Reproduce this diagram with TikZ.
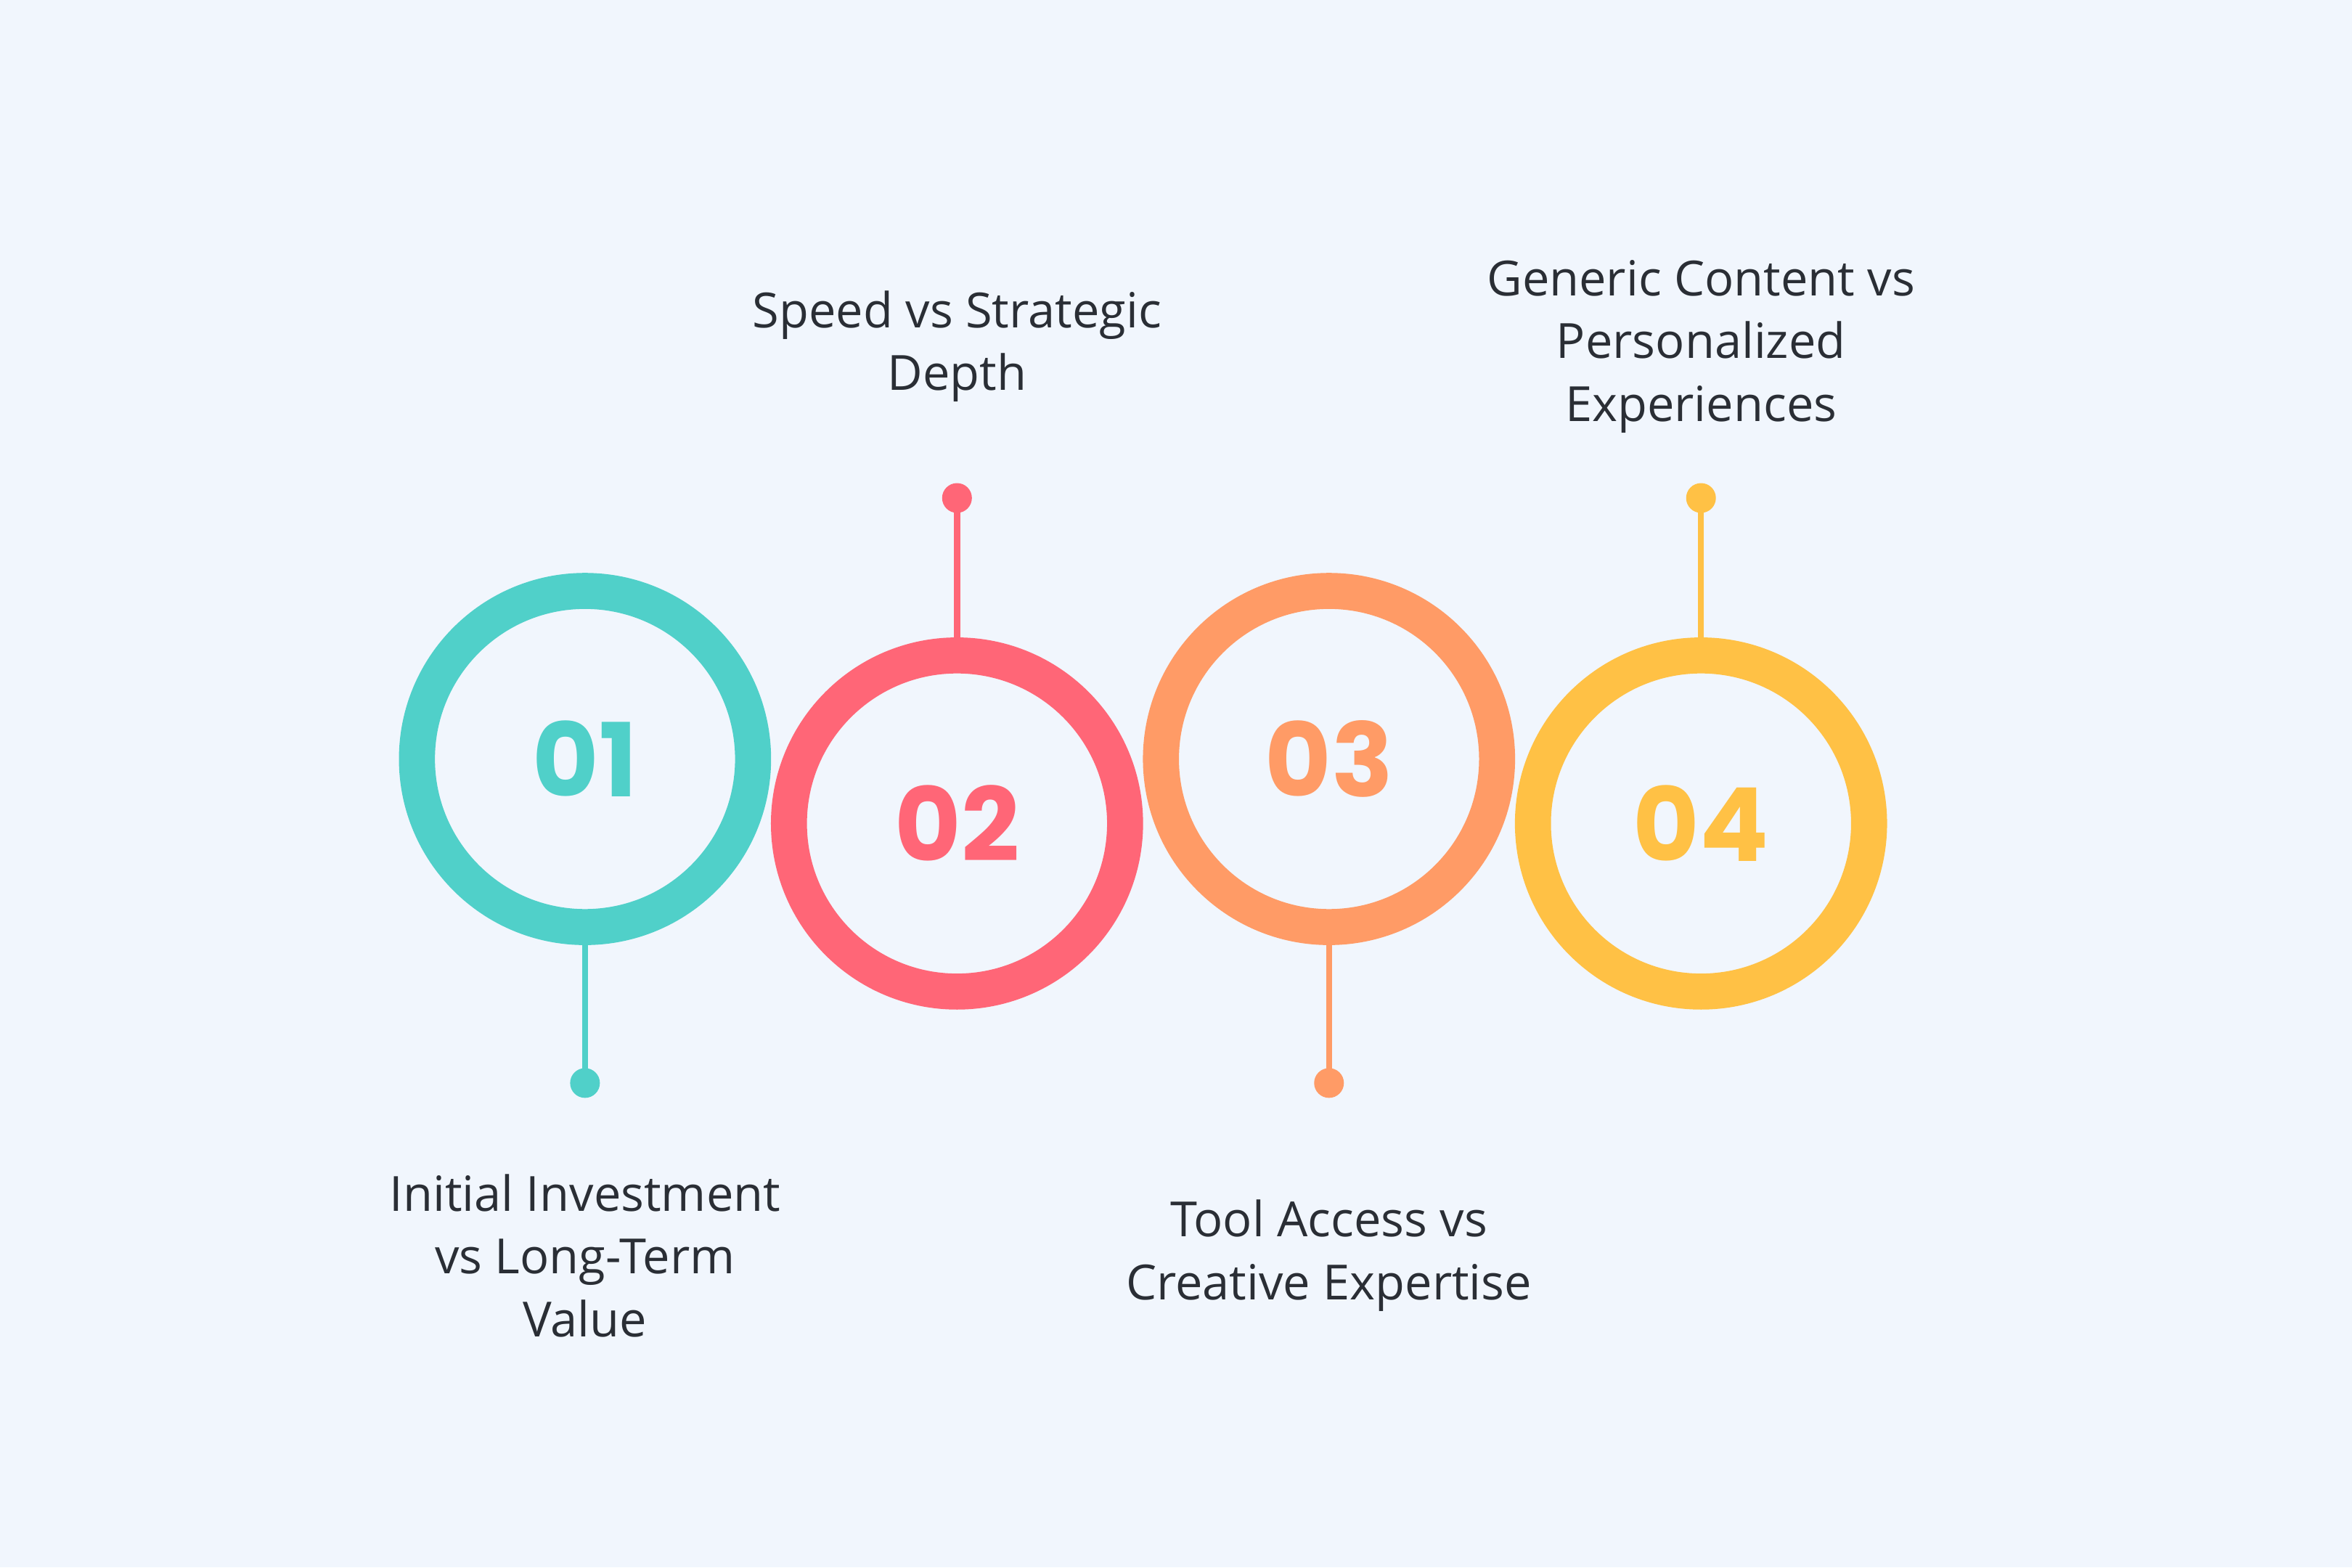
\documentclass[tikz,border=0pt]{standalone}
\usepackage{fontspec}
\setmainfont{Open Sans}
\newfontfamily\numfont{Poppins}
\definecolor{bg}{HTML}{F1F6FD}
\definecolor{cA}{HTML}{50D0C9}
\definecolor{cB}{HTML}{FF6677}
\definecolor{cC}{HTML}{FF9B66}
\definecolor{cD}{HTML}{FFC145}
\definecolor{txt}{HTML}{2A2E35}
\begin{document}
\begin{tikzpicture}[x=0.02066cm,y=-0.02066cm,
  ring/.style={circle,draw=#1,line width=0.496cm,minimum size=4.63cm,inner sep=0pt,text=#1,font=\numfont\bfseries\fontsize{40}{40}\selectfont},
  stem/.style={draw=#1,line width=2.4pt},
  dotc/.style={circle,fill=#1,minimum size=0.41cm,inner sep=0pt},
  lbl/.style={align=center,text=txt,font=\fontsize{19}{24.6}\selectfont}]
\fill[bg] (0,0) rectangle (1568,1045);
\node[ring=cA] (c1) at (390,506) {01};
\node[ring=cB] (c2) at (638,549) {02};
\node[ring=cC] (c3) at (886,506) {03};
\node[ring=cD] (c4) at (1134,549) {04};
\node[dotc=cA] (d1) at (390,722) {};
\node[dotc=cB] (d2) at (638,332) {};
\node[dotc=cC] (d3) at (886,722) {};
\node[dotc=cD] (d4) at (1134,332) {};
\draw[stem=cA] (c1.south) -- (d1.center);
\draw[stem=cB] (c2.north) -- (d2.center);
\draw[stem=cC] (c3.south) -- (d3.center);
\draw[stem=cD] (c4.north) -- (d4.center);
\node[lbl] (t1) at (390,837) {Initial Investment\\vs Long-Term\\Value};
\node[lbl] (t2) at (638,231) {Speed vs Strategic\\Depth};
\node[lbl] (t3) at (886,837) {Tool Access vs\\Creative Expertise};
\node[lbl] (t4) at (1134,231) {Generic Content vs\\Personalized\\Experiences};
\end{tikzpicture}
\end{document}
